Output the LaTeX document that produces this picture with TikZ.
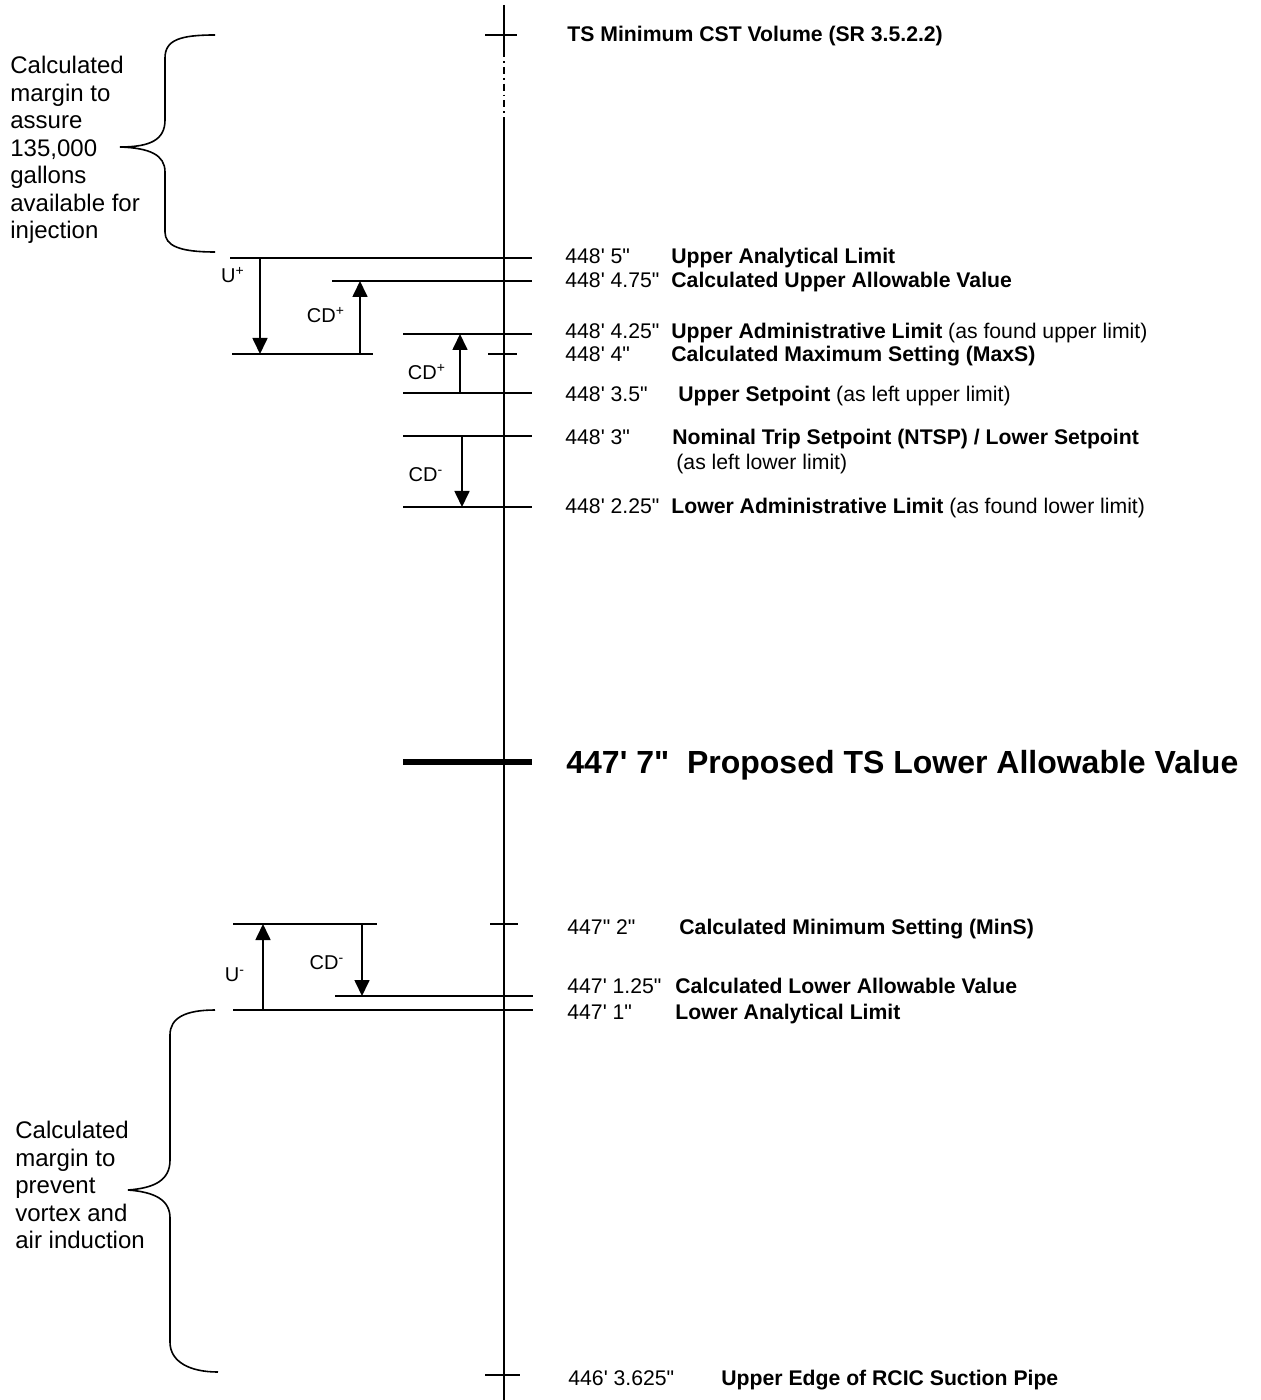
\documentclass[tikz,border=0pt]{standalone}
\usepackage{fontspec}
\setmainfont{Liberation Sans}[Ligatures=TeXOff]
\usepackage{tikz}
\usetikzlibrary{arrows.meta,calc}
\tikzset{
  lvl/.style={line width=0.75pt},
  tickmark/.style={line width=0.75pt},
  thickbar/.style={line width=2.6pt},
  brc/.style={line width=0.8pt},
  dimarr/.style={-{Triangle[length=8pt,width=7.5pt]},line width=0.85pt},
  val/.style={anchor=base west,inner sep=0pt,font=\fontsize{10.6}{12}\selectfont},
  lab/.style={anchor=base west,inner sep=0pt,font=\fontsize{10.6}{12}\selectfont},
  bigl/.style={anchor=base west,inner sep=0pt,font=\fontsize{16}{18}\selectfont\bfseries},
  side/.style={anchor=west,inner sep=0pt,align=left,font=\fontsize{12}{13.75}\selectfont},
  dimlbl/.style={inner sep=0pt,font=\fontsize{10}{12}\selectfont},
}
\begin{document}
\begin{tikzpicture}[x=0.5pt,y=-0.5pt]
  \useasboundingbox (0,0) rectangle (1260,1400);
  % levels on the axis
  \foreach \n/\y in {cst/35,ual/258,uav/281,uadm/334,maxs/354,usp/393,ntsp/436,ladm/507,plav/762,mins/924,clav/996,lal/1010,pipe/1375}
    \coordinate (\n) at (504,\y);
  % axis
  \coordinate (axtop) at (504,5);
  \coordinate (dd1) at (504,50);
  \coordinate (dd2) at (504,118);
  \coordinate (axbot) at (504,1400);
  \draw[lvl] (axtop) -- (dd1);
  \draw[line width=0.9pt,dash pattern=on 3.5pt off 2pt on 0.9pt off 2pt] (dd1) -- (dd2);
  \draw[lvl] (dd2) -- (axbot);
  % ticks
  \foreach \n/\a/\b in {cst/485/517,maxs/488/517,mins/490/518,pipe/485/520}
    \draw[tickmark] (\a,0 |- \n) -- (\b,0 |- \n);
  % level lines
  \foreach \n/\a/\b in {ual/230/532,uav/332/532,maxs/232/373,uadm/403/532,usp/403/532,ntsp/403/532,ladm/403/532,mins/233/377,clav/335/533,lal/233/533}
    \draw[lvl] (\a,0 |- \n) -- (\b,0 |- \n);
  \draw[thickbar] (403,0 |- plav) -- (532,0 |- plav);
  % dimension arrows
  \coordinate (xu1) at (260,0);
  \coordinate (xcd1) at (360,0);
  \coordinate (xcd2) at (460,0);
  \coordinate (xcd3) at (462,0);
  \coordinate (xu2) at (263,0);
  \coordinate (xcd4) at (362,0);
  \draw[dimarr] (xu1 |- ual) -- (xu1 |- maxs);
  \draw[dimarr] (xcd1 |- maxs) -- (xcd1 |- uav);
  \draw[dimarr] (xcd2 |- usp) -- (xcd2 |- uadm);
  \draw[dimarr] (xcd3 |- ntsp) -- (xcd3 |- ladm);
  \draw[dimarr] (xu2 |- lal) -- (xu2 |- mins);
  \draw[dimarr] (xcd4 |- mins) -- (xcd4 |- clav);
  \node[dimlbl] (uplbl) at (233,275) {U\textsuperscript{+}};
  \node[dimlbl] (cd1lbl) at (326,315) {CD\textsuperscript{+}};
  \node[dimlbl] (cd2lbl) at (427,372) {CD\textsuperscript{+}};
  \node[dimlbl] (cd3lbl) at (426,475) {CD\textsuperscript{-}};
  \node[dimlbl] (umlbl) at (235,975) {U\textsuperscript{-}};
  \node[dimlbl] (cd4lbl) at (327,963) {CD\textsuperscript{-}};
  % labels right of the axis
  \node[lab] (cstlab) at (567,42) {\textbf{TS Minimum CST Volume (SR 3.5.2.2)}};
  \foreach \y/\xv/\v/\xt/\t [count=\i] in {
      264/565/{448' 5"}/671/{\textbf{Upper Analytical Limit}},
      288/565/{448' 4.75"}/671/{\textbf{Calculated Upper Allowable Value}},
      339/565/{448' 4.25"}/671/{\textbf{Upper Administrative Limit} (as found upper limit)},
      362/565/{448' 4"}/671/{\textbf{Calculated Maximum Setting (MaxS)}},
      402/565/{448' 3.5"}/678/{\textbf{Upper Setpoint} (as left upper limit)},
      445/565/{448' 3"}/672/{\textbf{Nominal Trip Setpoint (NTSP) / Lower Setpoint}},
      470/565/{}/676/{(as left lower limit)},
      514/565/{448' 2.25"}/671/{\textbf{Lower Administrative Limit} (as found lower limit)},
      934/567/{447" 2"}/679/{\textbf{Calculated Minimum Setting (MinS)}},
      993/567/{447' 1.25"}/675/{\textbf{Calculated Lower Allowable Value}},
      1019/567/{447' 1"}/675/{\textbf{Lower Analytical Limit}},
      1385/568/{446' 3.625"}/721/{\textbf{Upper Edge of RCIC Suction Pipe}}} {
    \node[val] (val-\i) at (\xv,\y) {\v};
    \node[lab] (lab-\i) at (\xt,\y) {\t};
  }
  \node[bigl] (plavlab) at (566,773) {447' 7"\ \ Proposed TS Lower Allowable Value};
  % margins on the left
  \draw[brc] (215,35) .. controls (180,35) and (165,40) .. (165,58) -- (165,120)
    .. controls (165,140) and (150,147) .. (120,147)
    .. controls (150,148) and (165,155) .. (165,172) -- (165,232)
    .. controls (165,246) and (180,252) .. (215,252);
  \node[side] (topmargin) at (10,150) {Calculated\\margin to\\assure\\135,000\\gallons\\available for\\injection};
  \draw[brc] (215,1010) .. controls (185,1010) and (170,1018) .. (170,1035) -- (170,1160)
    .. controls (170,1180) and (155,1188) .. (128,1190)
    .. controls (155,1192) and (170,1200) .. (170,1218) -- (170,1342)
    .. controls (170,1362) and (190,1372) .. (218,1372);
  \node[side] (botmargin) at (15,1185) {Calculated\\margin to\\prevent\\vortex and\\air induction};
\end{tikzpicture}
\end{document}
